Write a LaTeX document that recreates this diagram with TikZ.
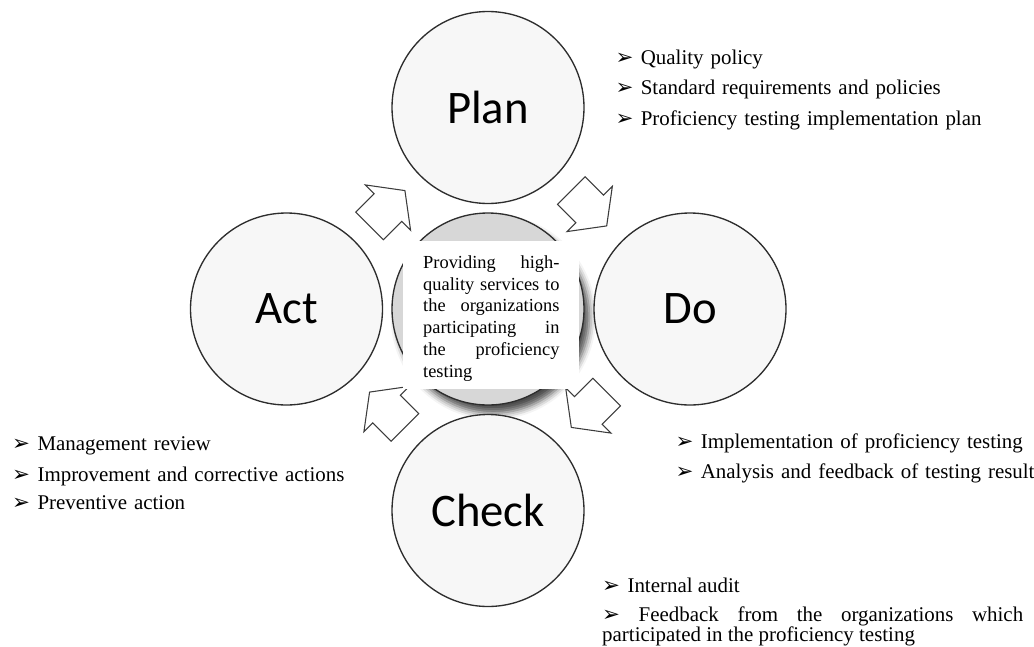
\documentclass[tikz,border=0pt]{standalone}
\usepackage{fontspec}
\setmainfont{Liberation Serif}
\newfontfamily\stagefont{Carlito}
\newfontfamily\markfont{DejaVu Sans}
\usetikzlibrary{calc,shadows.blur}

% arrowhead bullet in front of each item
\newcommand{\pmark}{{\markfont\fontsize{16}{16}\selectfont ➢}}
\newcommand{\pitem}{\makebox[19pt][l]{\pmark}}

\tikzset{every picture/.style={line width=0.75pt}}
\tikzset{
  stage/.style={circle, draw={rgb, 255:red, 45; green, 45; blue, 45 }, line width=1pt, fill={rgb, 255:red, 247; green, 247; blue, 247 }, minimum size=144pt, inner sep=0pt, font=\stagefont\fontsize{35}{40}\selectfont},
  core/.style={stage, fill={rgb, 255:red, 215; green, 215; blue, 215 }, blur shadow={shadow xshift=4pt, shadow yshift=-6pt, shadow blur radius=5pt, shadow opacity=70}},
  notes/.style={anchor=base west, inner sep=0pt, align=left, font=\fontsize{15.7}{13.8}\selectfont},
  turn/.pic={\draw [draw={rgb, 255:red, 60; green, 60; blue, 60 }, fill=white, line width=0.8pt] (-25,-19.5) -- (1,-19.5) -- (1,-32) -- (25,0) -- (1,32) -- (1,19.5) -- (-25,19.5) -- cycle ;}
}

\begin{document}
\begin{tikzpicture}[x=0.75pt,y=0.75pt,yscale=-1,xscale=1]
	\useasboundingbox (0,0) rectangle (1034,646);

	%Shape: Circle [id:goal]
	\node [core] (goal) at (488,309) {};
	%Shape: Circle [id:plan]
	\node [stage] (plan) at (488,107.5) {Plan};
	%Shape: Circle [id:do]
	\node [stage] (do) at (690,309) {Do};
	%Shape: Circle [id:check]
	\node [stage] (check) at (488,510.5) {Check};
	%Shape: Circle [id:act]
	\node [stage] (act) at (286.5,309) {Act};

	%Block Arrows
	\pic [rotate=45] at ($(act)!0.5!(plan)$) {turn};
	\pic [rotate=-45] at ($(plan)!0.5!(do)$) {turn};
	\pic [rotate=225] at ($(do)!0.5!(check)$) {turn};
	\pic [rotate=135] at ($(check)!0.5!(act)$) {turn};

	%Shape: Rectangle [id:goalbox]
	\node [fill=white, minimum width=132pt, minimum height=111.2pt, inner sep=0pt] (goalbox) at (491,314.9) {};
	% Text Node
	\node [anchor=base west, inner sep=0pt, text width=102.2pt, align=justify, font=\fontsize{13.8}{16.35}\selectfont] (goaltext) at (422.7,268.3) {Providing high-\linebreak quality services to\linebreak the organizations\linebreak participating in\linebreak the proficiency\linebreak testing};

	% Text Node
	\node [notes, text width=280pt] (plannotes) at (615,64) {\pitem Quality policy\\[7.6pt] \pitem Standard requirements and policies\\[7.6pt] \pitem Proficiency testing implementation plan};
	% Text Node
	\node [notes, text width=280pt] (donotes) at (675,448) {\pitem Implementation of proficiency testing\\[7.6pt] \pitem Analysis and feedback of testing result};
	% Text Node
	\node [notes, text width=260pt] (actnotes) at (11.7,450.7) {\pitem Management review\\[7.6pt] \pitem Improvement and corrective actions\\[7.6pt] \pitem Preventive action};
	% Text Node
	\node [notes, text width=315.75pt, align=justify] (checknotes) at (601.7,592.5) {\pitem Internal audit\\[7.6pt] \pmark{} Feedback from the organizations which\linebreak participated in the proficiency testing};

\end{tikzpicture}
\end{document}
